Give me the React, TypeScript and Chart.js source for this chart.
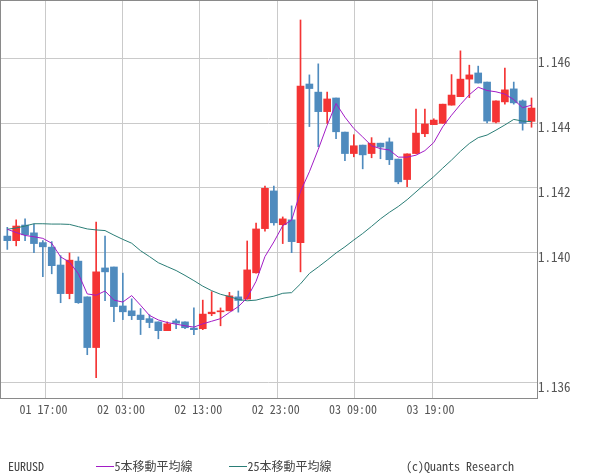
import React, { useEffect, useRef } from 'react';
import { Chart, registerables } from 'chart.js';

Chart.register(...registerables);

const FONT = "'Noto Sans Mono CJK JP', 'Noto Sans CJK JP', 'DejaVu Sans Mono', monospace";

const open = [1.14052, 1.14038, 1.14086, 1.14062, 1.14032, 1.14018, 1.13963, 1.13875, 1.13975, 1.13865,
  1.13709, 1.13954, 1.13957, 1.13837, 1.13822, 1.13809, 1.13798, 1.13788, 1.13761, 1.13791,
  1.13788, 1.13769, 1.13767, 1.13813, 1.13819, 1.13822, 1.13865, 1.13858, 1.13939, 1.14075,
  1.14191, 1.14087, 1.14102, 1.14032, 1.14520, 1.14495, 1.14435, 1.14477, 1.14372, 1.14306,
  1.14332, 1.14306, 1.14338, 1.14342, 1.14289, 1.14226, 1.14306, 1.14367, 1.14395, 1.14399,
  1.14455, 1.14481, 1.14535, 1.14554, 1.14526, 1.14403, 1.14465, 1.14505, 1.14468, 1.14405];

const high = [1.14079, 1.14102, 1.14105, 1.14089, 1.14038, 1.14035, 1.13992, 1.14000, 1.13988, 1.13865,
  1.14095, 1.14052, 1.13957, 1.13938, 1.13859, 1.13829, 1.13810, 1.13788, 1.13788, 1.13797,
  1.13788, 1.13831, 1.13855, 1.13881, 1.13831, 1.13879, 1.13883, 1.14037, 1.14092, 1.14206,
  1.14206, 1.14111, 1.14145, 1.14717, 1.14548, 1.14582, 1.14495, 1.14477, 1.14372, 1.14364,
  1.14332, 1.14355, 1.14338, 1.14354, 1.14289, 1.14305, 1.14443, 1.14443, 1.14413, 1.14458,
  1.14549, 1.14622, 1.14578, 1.14575, 1.14526, 1.14468, 1.14569, 1.14526, 1.14471, 1.14477];

const low = [1.14011, 1.14022, 1.14038, 1.14001, 1.13927, 1.13936, 1.13847, 1.13859, 1.13845, 1.13687,
  1.13616, 1.13853, 1.13789, 1.13795, 1.13795, 1.13749, 1.13770, 1.13736, 1.13761, 1.13767,
  1.13767, 1.13749, 1.13764, 1.13807, 1.13776, 1.13822, 1.13818, 1.13858, 1.13938, 1.14067,
  1.14086, 1.14029, 1.14001, 1.13942, 1.14389, 1.14327, 1.14399, 1.14352, 1.14284, 1.14296,
  1.14259, 1.14293, 1.14290, 1.14272, 1.14213, 1.14204, 1.14306, 1.14358, 1.14395, 1.14399,
  1.14455, 1.14481, 1.14478, 1.14523, 1.14400, 1.14400, 1.14458, 1.14458, 1.14378, 1.14387];

const close = [1.14038, 1.14083, 1.14056, 1.14029, 1.14019, 1.13961, 1.13875, 1.13978, 1.13847, 1.13709,
  1.13942, 1.13942, 1.13835, 1.13819, 1.13807, 1.13795, 1.13786, 1.13761, 1.13782, 1.13784,
  1.13770, 1.13764, 1.13812, 1.13818, 1.13822, 1.13868, 1.13854, 1.13948, 1.14074, 1.14199,
  1.14093, 1.14105, 1.14035, 1.14514, 1.14506, 1.14435, 1.14474, 1.14373, 1.14306, 1.14330,
  1.14302, 1.14338, 1.14326, 1.14287, 1.14219, 1.14305, 1.14369, 1.14397, 1.14409, 1.14458,
  1.14486, 1.14535, 1.14548, 1.14523, 1.14406, 1.14468, 1.14502, 1.14462, 1.14399, 1.14446];

const ma5 = [1.14073, 1.14063, 1.14054, 1.14050, 1.14045, 1.14030, 1.13988, 1.13972, 1.13936, 1.13874,
  1.13870, 1.13883, 1.13855, 1.13849, 1.13869, 1.13839, 1.13808, 1.13794, 1.13786, 1.13781,
  1.13776, 1.13772, 1.13782, 1.13790, 1.13798, 1.13817, 1.13835, 1.13862, 1.13913, 1.13989,
  1.14034, 1.14084, 1.14101, 1.14189, 1.14250, 1.14319, 1.14393, 1.14460, 1.14418, 1.14383,
  1.14357, 1.14330, 1.14321, 1.14317, 1.14295, 1.14295, 1.14301, 1.14315, 1.14340, 1.14388,
  1.14424, 1.14457, 1.14487, 1.14510, 1.14500, 1.14496, 1.14489, 1.14472, 1.14447, 1.14455];

const ma25 = [1.14073, 1.14077, 1.14083, 1.14090, 1.14090, 1.14089, 1.14089, 1.14088, 1.14081, 1.14074,
  1.14071, 1.14069, 1.14055, 1.14042, 1.14030, 1.14007, 1.13989, 1.13970, 1.13958, 1.13946,
  1.13931, 1.13915, 1.13898, 1.13884, 1.13873, 1.13866, 1.13857, 1.13853, 1.13855, 1.13862,
  1.13867, 1.13876, 1.13878, 1.13905, 1.13937, 1.13957, 1.13978, 1.14000, 1.14019, 1.14040,
  1.14060, 1.14082, 1.14105, 1.14125, 1.14143, 1.14164, 1.14188, 1.14212, 1.14235, 1.14261,
  1.14286, 1.14313, 1.14337, 1.14355, 1.14363, 1.14378, 1.14394, 1.14411, 1.14406, 1.14404];

const tickPositions = [4.25, 12.96, 21.67, 30.38, 39.09, 47.8];
const tickLabels = ['01 17:00', '02 03:00', '02 13:00', '02 23:00', '03 09:00', '03 19:00'];
const yTicks = [1.136, 1.14, 1.142, 1.144, 1.146];

const symbolName = 'EURUSD';
const ma5Name = '5本移動平均線';
const ma25Name = '25本移動平均線';
const creditText = '(c)Quants Research';

const X_MIN = -0.822;
const X_MAX = 59.617;
const Y_MIN = 1.135538;
const Y_MAX = 1.147785;

const UP_COLOR = '#f43434';
const DOWN_COLOR = '#4f8bbe';
const MA5_COLOR = '#a21cc6';
const MA25_COLOR = '#2a7d76';
const GRID_COLOR = '#cacaca';
const BORDER_COLOR = '#8a8a8a';
const TEXT_COLOR = '#555555';

const frameAndLegend = {
  id: 'frameAndLegend',
  afterDraw(chart: any) {
    const { ctx, chartArea } = chart;
    ctx.save();
    ctx.strokeStyle = BORDER_COLOR;
    ctx.lineWidth = 1;
    const l = Math.floor(chartArea.left) + 0.5;
    const t = Math.floor(chartArea.top) + 0.5;
    const r = Math.floor(chartArea.right) + 0.5;
    const b = Math.floor(chartArea.bottom) + 0.5;
    ctx.strokeRect(l, t, r - l, b - t);

    ctx.font = `12px ${FONT}`;
    ctx.fillStyle = '#444444';
    ctx.textBaseline = 'middle';
    ctx.textAlign = 'left';
    const y = 466.5;
    ctx.fillText(symbolName, 8, y);

    ctx.strokeStyle = MA5_COLOR;
    ctx.beginPath();
    ctx.moveTo(96, y);
    ctx.lineTo(114, y);
    ctx.stroke();
    ctx.fillText(ma5Name, 114.5, y);

    ctx.strokeStyle = MA25_COLOR;
    ctx.beginPath();
    ctx.moveTo(229, y);
    ctx.lineTo(247, y);
    ctx.stroke();
    ctx.fillText(ma25Name, 247.5, y);

    ctx.textAlign = 'right';
    ctx.fillText(creditText, 514, y);
    ctx.restore();
  },
};

export default function App() {
  const canvasRef = useRef<HTMLCanvasElement | null>(null);

  useEffect(() => {
    if (!canvasRef.current) return;
    const colors = open.map((o, i) => (close[i] >= o ? UP_COLOR : DOWN_COLOR));
    const chart = new Chart(canvasRef.current, {
      type: 'bar',
      data: {
        datasets: [
          {
            type: 'line',
            label: ma5Name,
            data: ma5.map((v, i) => ({ x: i, y: v })),
            borderColor: MA5_COLOR,
            borderWidth: 1,
            pointRadius: 0,
            tension: 0,
            order: 0,
          } as any,
          {
            type: 'line',
            label: ma25Name,
            data: ma25.map((v, i) => ({ x: i, y: v })),
            borderColor: MA25_COLOR,
            borderWidth: 1,
            pointRadius: 0,
            tension: 0,
            order: 1,
          } as any,
          {
            type: 'bar',
            label: 'body',
            data: open.map((o, i) => ({ x: i, y: [o, close[i]] })),
            backgroundColor: colors,
            barThickness: 7,
            minBarLength: 1,
            grouped: false,
            order: 2,
          } as any,
          {
            type: 'bar',
            label: 'wick',
            data: high.map((h, i) => ({ x: i, y: [low[i], h] })),
            backgroundColor: colors,
            barThickness: 1,
            grouped: false,
            order: 3,
          } as any,
        ],
      },
      options: {
        animation: false,
        responsive: false,
        devicePixelRatio: 1,
        layout: { padding: 0 },
        plugins: {
          legend: { display: false },
          tooltip: { enabled: false },
        },
        scales: {
          x: {
            type: 'linear',
            min: X_MIN,
            max: X_MAX,
            offset: false,
            grid: { color: GRID_COLOR, drawTicks: false, offset: false },
            border: { display: false },
            ticks: {
              autoSkip: false,
              maxRotation: 0,
              padding: 4,
              labelOffset: -1.5,
              color: TEXT_COLOR,
              font: { family: FONT, size: 12 },
              callback: (_v: any, i: number) => tickLabels[i],
            },
            afterBuildTicks: (s: any) => {
              s.ticks = tickPositions.map((v) => ({ value: v }));
            },
            afterFit: (s: any) => {
              s.height = 77;
              s.paddingLeft = 0;
              s.paddingRight = 0;
            },
          },
          y: {
            type: 'linear',
            position: 'right',
            min: Y_MIN,
            max: Y_MAX,
            grid: { color: GRID_COLOR, drawTicks: false, offset: false },
            border: { display: false },
            ticks: {
              padding: 1,
              labelOffset: 4,
              color: TEXT_COLOR,
              font: { family: FONT, size: 13 },
              callback: (v: any) => Number(v).toFixed(3),
            },
            afterBuildTicks: (s: any) => {
              s.ticks = yTicks.map((v) => ({ value: v }));
            },
            afterFit: (s: any) => {
              s.width = 63;
              s.paddingTop = 0;
              s.paddingBottom = 0;
            },
          },
        },
      } as any,
      plugins: [frameAndLegend],
    });
    return () => chart.destroy();
  }, []);

  return (
    <div style={{ position: 'fixed', left: 0, top: 0, width: 600, height: 475, background: '#fff' }}>
      <canvas ref={canvasRef} width={600} height={475} style={{ display: 'block' }} />
    </div>
  );
}
